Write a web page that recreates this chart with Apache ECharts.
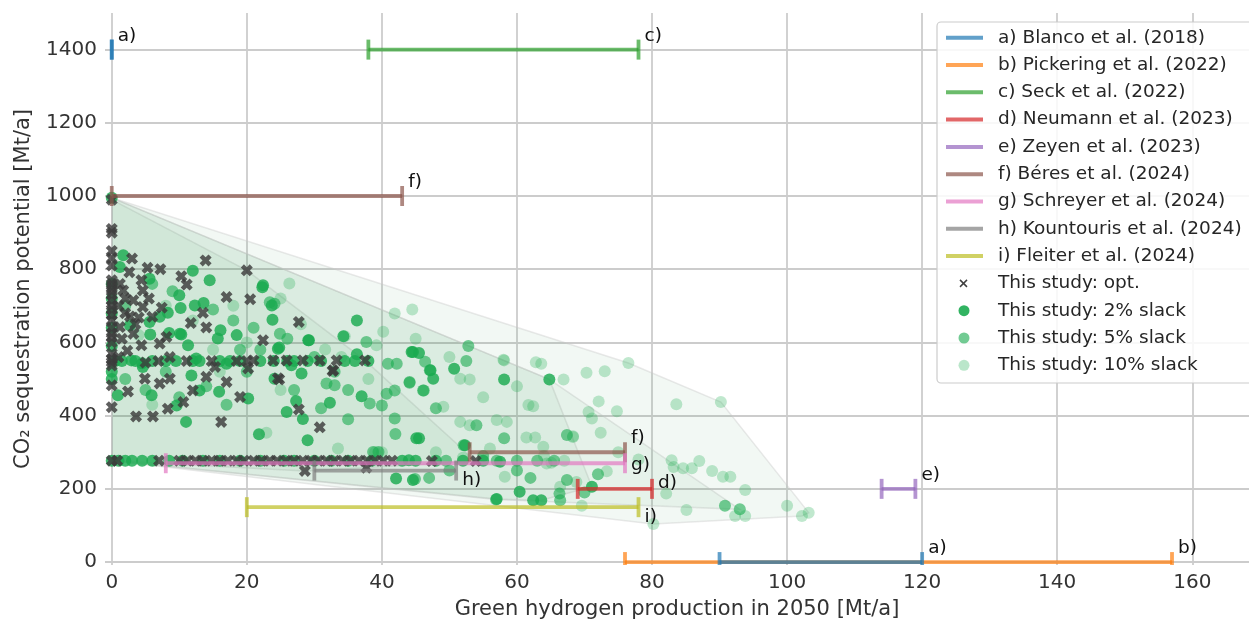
<!DOCTYPE html>
<html><head><meta charset="utf-8">
<script src="https://cdn.jsdelivr.net/npm/echarts@6/dist/echarts.min.js"></script>
<style>html,body{margin:0;padding:0;background:#fff}#c{width:1249px;height:623px}</style>
</head><body><div id="c"></div>
<script>
// ---------- DATA ----------
const refKeys = ['a','b','c','d','e','f','g','h','i'];
const refNames = ['a) Blanco et al. (2018)','b) Pickering et al. (2022)','c) Seck et al. (2022)','d) Neumann et al. (2023)','e) Zeyen et al. (2023)','f) Béres et al. (2024)','g) Schreyer et al. (2024)','h) Kountouris et al. (2024)','i) Fleiter et al. (2024)'];
const studyNames = ['This study: opt.','This study: 2% slack','This study: 5% slack','This study: 10% slack'];

// literature ranges: H2 low/high [Mt/a], CO2 [Mt/a]
const rangeRef  = ['b','c','d','e','f','f','g','h','i','a','a'];
const rangeLow  = [76, 38, 69, 114, 0, 53, 8, 30, 20, 0, 90];
const rangeHigh = [157, 78, 80, 119, 43, 76, 76, 51, 78, 0, 120];
const rangeCO2  = [0, 1400, 200, 200, 1000, 300, 270, 250, 150, 1400, 0];

const xTicks = [0,20,40,60,80,100,120,140,160];
const yTicks = [0,200,400,600,800,1000,1200,1400];

const optPts = [[0,990],[0,910],[0,900],[0,850],[0,830],[0,810],[0,770],[0,760],[0,750],[0,740],[0,730],[0,715],[0,700],[0,690],[0,675],[0,660],[0,640],[0,625],[0,614],[0,600],[0,570],[0,555],[0,546],[0,537],[0,483],[0,423],[0,277],
[3.0,829],[2.6,792],[5.3,804],[7.2,800],[13.9,824],[20.0,797],[10.3,781],[11.1,758],[4.4,770],[4.6,742],[1.7,742],[3.2,715],[4.6,697],[7.4,695],[4.0,668],[2.7,671],[17.0,724],[20.5,718],[13.5,681],[11.7,653],[14.0,641],[3.2,624],[1.2,642],[8.1,615],[22.4,606],[27.7,656],[37.5,551],[32.8,524],[24.6,502],[4.4,592],[7.1,597],[2.3,577],[6.9,549],[8.6,560],[11.1,549],[14.8,549],[15.3,533],[20.0,549],[20.2,529],[4.9,501],[7.1,488],[8.6,501],[2.4,466],[8.3,419],[10.6,437],[12.0,469],[14.0,506],[17.0,492],[19.0,451],[3.6,398],[6.1,398],[16.2,383],[7.0,277],[23.9,551],[25.9,551],[28.3,551],[30.8,551],[33.3,551],[21.0,551],[18.5,549],[32.7,522],[24.8,499],[27.7,417],[30.8,368],[28.6,249],[37.7,258],[1.0,700],[2.0,720],[1.5,610],[3.5,650],[5.5,720],[6.0,670],[1.2,760],[2.0,680],[1.0,560],[5.0,545],[0.8,277],
[10,277],[11.2,277],[12.4,277],[13.5,277],[14.8,277],[16,277],[17.2,277],[18.5,277],[19.6,277],[21,277],[22.2,277],[23.4,277],[24.5,277],[25.8,277],[27,277],[28.3,277],[29.5,277],[30.6,277],[31.8,277],[33,277],[34.2,277],[35.4,277],[36.6,277],[37.8,277],[39,277],[40.2,277],[41.5,277],[47.4,276],[53.9,276]];

const slack2Pts = [[0,995],[0,760],[0,720],[0,680],[0,640],[0,590],[0,520],[0,500],
[1.7,838],[1.2,806],[12.0,796],[14.5,770],[22.3,751],[10.0,729],[13.6,708],[12.3,701],[10.2,694],[8.3,681],[7.1,670],[5.6,656],[2.7,647],[16.1,633],[10.3,622],[8.5,626],[18.5,620],[15.7,611],[5.7,622],[5.6,774],[36.3,660],[29.1,606],[11.3,592],[24.6,583],[28.1,515],[10.1,624],[12.5,556],[17.0,542],[4.6,533],[11.8,510],[13.0,469],[0.9,456],[5.9,456],[9.6,428],[15.9,465],[20.2,447],[11.0,383],[21.8,349],[2.9,551],[4.5,543],[22.4,756],[23.7,701],[23.8,662],[24.8,586],[29.2,606],[34.3,617],[36.3,568],[26.6,538],[24.1,501],[37.0,453],[32.3,435],[27.3,440],[25.9,410],[28.3,391],[29.0,333],[45.1,338],[44.0,278],[42.1,228],[64.8,499],[50.7,528],[45.5,571],[44.6,574],[47.2,524],[47.6,501],[45.5,338],[57.0,172],[62.4,169],[63.6,169],[71.1,206],[60.4,192],[58.1,499],[52.3,319],[57.5,274],[44.6,224],[44.4,574],
[0.5,549],[1.5,549],[3.5,549],[6,549],[8,549],[9.5,549],[12,549],[13,549],[16,549],[17.5,549],[19,549],[22,549],[24,549],[26,549],[27,549],[29,549],[31,549],[34.5,549],[36,549],[38,549],
[0,277],[1,277],[2,277],[3,277],[4.5,277],[6,277],[8.5,277],[10.5,277],[13.5,277],[16,277],[19,277],[22,277],[25.5,277],[27,277],[30,277],[32.5,277],[35,277],[38.5,277],[43,277],[45,277],[48,277],[52,277],[55,277]];

const slack5Pts = [[52.8,590],[52.5,549],[46.4,547],[47.1,524],[44.1,492],[46.2,469],[54.0,374],[58.1,338],[52.1,319],[66.4,169],[66.3,187],[90.8,154],[93.0,144],[67.4,224],[44.9,227],[56.9,171],[23.4,710],[24.1,706],[24.9,624],[37.7,601],[40.9,542],[42.2,542],[44.1,490],[41.9,469],[40.7,460],[38.2,433],[40.0,428],[41.9,392],[31.8,488],[33.0,483],[46.1,469],[38.7,301],[39.5,301],[67.4,347],
[2,700],[6,760],[9,740],[15,690],[18,660],[21,640],[26,610],[19,580],[8,520],[14,480],[17,430],[22,580],[30,560],[33,520],[35,470],[2,500],[5,470],[10,450],[20,520],[27,470],[31,420],[35,390],[42,350],[48,420],[60,250],[62,230],[55,290],[50,250],[47,230],[70,190],[72,240],[49.5,277],[57,277],[60,277],[63,277],[65.5,277]];

const slack10Pts = [[44.5,690],[76.5,544],[90.2,437],[83.6,431],[72.1,439],[70.3,517],[73.0,521],[62.8,546],[63.6,542],[58.0,553],[66.9,499],[62.4,426],[61.7,429],[70.6,410],[71.1,392],[74.8,412],[72.4,353],[68.3,344],[63.9,315],[61.4,340],[62.7,340],[82.9,278],[83.2,260],[84.6,256],[85.9,256],[87.0,276],[88.9,249],[90.5,233],[91.6,233],[93.8,197],[82.1,187],[85.1,142],[92.3,126],[93.8,126],[100.0,154],[102.2,126],[103.2,135],[80.2,104],[69.6,154],[73.3,248],[58.2,233],[51.6,383],[53.0,374],[49.1,424],[51.6,501],[53.0,499],[58.1,551],[57.0,388],[58.5,383],[64.4,269],[65.1,271],[68.8,219],[66.4,206],[68.3,342],[26.3,761],[31.6,581],[34.5,617],[41.9,679],[40.2,629],[39.2,592],[22.9,353],[33.5,310],
[8,700],[12,660],[18,700],[25,720],[4,620],[15,580],[20,600],[28,650],[6,430],[16,520],[25,470],[34,560],[38,500],[45,610],[50,560],[55,450],[60,480],[48,300],[52,285],[56,310],[75,300],[78,280],[64,290],[39,300],[40,300],[67,277]];

// ---------- STYLE ----------
const refColors = {a:'#1f77b4',b:'#ff7f0e',c:'#2ca02c',d:'#d62728',e:'#9467bd',f:'#8c564b',g:'#e377c2',h:'#7f7f7f',i:'#bcbd22'};
const labelDy = [-14,-13,-6,-14,-14,-14,2,10,10,-13,-14];
const FONT = '"DejaVu Sans", Verdana, sans-serif';
const GREEN = '27,171,80';
const HULLFILL = 'rgba(55,147,87,0.066)';

function hex2rgba(h,a){const n=parseInt(h.slice(1),16);return 'rgba('+((n>>16)&255)+','+((n>>8)&255)+','+(n&255)+','+a+')';}

function hull(pts){
  const p = pts.slice().sort((a,b)=>a[0]-b[0]||a[1]-b[1]);
  const cross=(o,a,b)=>(a[0]-o[0])*(b[1]-o[1])-(a[1]-o[1])*(b[0]-o[0]);
  const lo=[],up=[];
  for(const q of p){while(lo.length>=2&&cross(lo[lo.length-2],lo[lo.length-1],q)<=0)lo.pop();lo.push(q);}
  for(let i=p.length-1;i>=0;i--){const q=p[i];while(up.length>=2&&cross(up[up.length-2],up[up.length-1],q)<=0)up.pop();up.push(q);}
  up.pop();lo.pop();return lo.concat(up);
}
const hullSets = [optPts, optPts.concat(slack2Pts), optPts.concat(slack2Pts,slack5Pts), optPts.concat(slack2Pts,slack5Pts,slack10Pts)].map(hull);

const hullSeries = hullSets.map((h,k)=>({
  type:'custom', coordinateSystem:'cartesian2d', z:1, silent:true,
  data:h,
  renderItem:function(params,api){
    if(params.dataIndex!==0) return null;
    const pts=h.map(p=>api.coord(p));
    return {type:'polygon',shape:{points:pts},style:{fill:HULLFILL,stroke:'rgba(200,200,200,0.4)',lineWidth:1.5}};
  }
}));

const XPATH='path://M0,2.6 L2.6,0 L5,2.4 L7.4,0 L10,2.6 L7.6,5 L10,7.4 L7.4,10 L5,7.6 L2.6,10 L0,7.4 L2.4,5 Z';

const rangeData = rangeRef.map((r,i)=>[rangeLow[i],rangeHigh[i],rangeCO2[i],i]);

const option = {
  animation:false,
  textStyle:{fontFamily:FONT},
  grid:{left:105,right:0,top:13,bottom:58,containLabel:false,outerBoundsMode:'none'},
  xAxis:{type:'value',min:-1,max:168.4,minInterval:20,maxInterval:20,
    axisLine:{show:false},axisTick:{show:false},
    axisLabel:{color:'#333',fontSize:20,margin:8,fontFamily:FONT,showMinLabel:false,showMaxLabel:false,
      formatter:v=>xTicks.indexOf(v)>=0?String(v):''},
    splitLine:{show:true,showMinLine:false,showMaxLine:false,lineStyle:{color:'#cccccc',width:1.8}},
    name:'Green hydrogen production in 2050 [Mt/a]',nameLocation:'middle',nameGap:34,
    nameTextStyle:{fontSize:21,color:'#333',fontFamily:FONT}},
  yAxis:{type:'value',min:-8,max:1500,minInterval:200,maxInterval:200,
    axisLine:{show:false},axisTick:{show:false},
    axisLabel:{color:'#333',fontSize:20,margin:8,fontFamily:FONT,showMinLabel:false,showMaxLabel:false,
      formatter:v=>yTicks.indexOf(v)>=0?String(v):''},
    splitLine:{show:true,showMinLine:false,showMaxLine:false,lineStyle:{color:'#cccccc',width:1.8}},
    name:'CO₂ sequestration potential [Mt/a]',nameLocation:'middle',nameGap:71,
    nameTextStyle:{fontSize:21,color:'#333',fontFamily:FONT}},
  series: hullSeries.concat([
    {type:'scatter',name:studyNames[3],data:slack10Pts,symbol:'circle',symbolSize:12,z:3,clip:false,
      itemStyle:{color:'rgb('+GREEN+')',opacity:0.28}},
    {type:'scatter',name:studyNames[2],data:slack5Pts,symbol:'circle',symbolSize:12,z:3,clip:false,
      itemStyle:{color:'rgb('+GREEN+')',opacity:0.6}},
    {type:'scatter',name:studyNames[1],data:slack2Pts,symbol:'circle',symbolSize:12,z:3,clip:false,
      itemStyle:{color:'rgb('+GREEN+')',opacity:0.82}},
    {type:'scatter',name:studyNames[0],data:optPts,symbol:XPATH,symbolSize:12,z:4,clip:false,
      itemStyle:{color:'#3c3c3c',opacity:0.82}},
    {type:'custom',name:'ranges',coordinateSystem:'cartesian2d',z:5,clip:false,data:rangeData,
      encode:{x:[0,1],y:2},
      renderItem:function(params,api){
        const i=api.value(3);
        const p0=api.coord([api.value(0),api.value(2)]);
        const p1=api.coord([api.value(1),api.value(2)]);
        const key=rangeRef[i];
        const col=hex2rgba(refColors[key],0.7);
        const st={stroke:col,lineWidth:3.8};
        const bottom=params.coordSys.y+params.coordSys.height;
        const capB=(p)=>Math.min(p[1]+10,bottom);
        return {type:'group',children:[
          {type:'line',shape:{x1:p0[0],y1:p0[1],x2:p1[0],y2:p1[1]},style:st},
          {type:'line',shape:{x1:p0[0],y1:p0[1]-10,x2:p0[0],y2:capB(p0)},style:st},
          {type:'line',shape:{x1:p1[0],y1:p1[1]-10,x2:p1[0],y2:capB(p1)},style:st},
          {type:'text',style:{text:key+')',x:p1[0]+6,y:p1[1]+labelDy[i],verticalAlign:'middle',align:'left',
            fill:'#111',fontSize:18.5,fontFamily:FONT}}
        ]};
      }}
  ]),
  graphic: buildLegend()
};

function buildLegend(){
  const g=[];
  const x0=937,y0=22,w=330,h=361,rowH=27.3,r0=37.7;
  g.push({type:'rect',z:100,shape:{x:x0,y:y0,width:w,height:h,r:4},style:{fill:'rgba(255,255,255,0.85)',stroke:'#cccccc',lineWidth:1.2}});
  const labels=refNames.concat(studyNames);
  labels.forEach((t,i)=>{
    const y=r0+rowH*i;
    if(i<9){
      g.push({type:'line',z:101,shape:{x1:946,y1:y,x2:983,y2:y},style:{stroke:hex2rgba(refColors[refKeys[i]],0.7),lineWidth:4}});
    } else if(i===9){
      g.push({type:'line',z:101,shape:{x1:960,y1:y-3.5,x2:967,y2:y+3.5},style:{stroke:'#404040',lineWidth:1.5}});
      g.push({type:'line',z:101,shape:{x1:960,y1:y+3.5,x2:967,y2:y-3.5},style:{stroke:'#404040',lineWidth:1.5}});
    } else {
      const op=[0.9,0.62,0.3][i-10];
      g.push({type:'circle',z:101,shape:{cx:964,cy:y,r:5.5},style:{fill:'rgba('+GREEN+','+op+')'}});
    }
    g.push({type:'text',z:101,style:{text:t,x:998,y:y,verticalAlign:'middle',fill:'#262626',fontSize:18.5,fontFamily:FONT}});
  });
  return g;
}

const chart=echarts.init(document.getElementById('c'),null,{renderer:'canvas'});
chart.setOption(option);
</script></body></html>
